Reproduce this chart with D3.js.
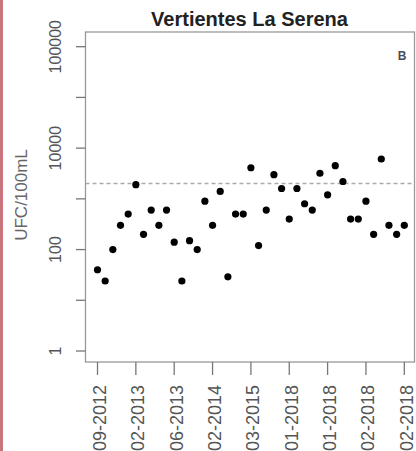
<!DOCTYPE html>
<html>
<script src="https://d3js.org/d3.v7.min.js"></script>
<style>
body {margin:0; background:#fff;}
text {font-family: "Liberation Sans", Arial, sans-serif;}
</style>
<body>
<svg width=416 height=451></svg>
<script>
// UFC/100mL per sample, in sampling order
const values = [40, 24, 100, 300, 500, 1900, 200, 600, 300, 600,
                140, 24, 150, 100, 900, 300, 1400, 29, 500, 500,
                4100, 120, 600, 3000, 1600, 400, 1600, 800, 600, 3200,
                1200, 4500, 2200, 400, 400, 900, 200, 6100, 300, 200, 300];
const xTickIdx = [1, 6, 11, 16, 21, 26, 31, 36, 41];
const xTickLabels = ["09-2012", "02-2013", "06-2013", "02-2014", "03-2015",
                     "01-2018", "01-2018", "02-2018", "02-2018"];
const yTicks = [1, 10, 100, 1000, 10000, 100000, 1000000];
const yLabelTicks = [1, 100, 10000, 1000000];
const yTickLabels = ["1", "100", "10000", "100000"];
const limit = 2000;

const svg = d3.select("svg");

// left red strip of the page
svg.append("rect").attr("x", 0).attr("y", 0).attr("width", 3).attr("height", 451)
    .attr("fill", "#c9747c");

const box = {left: 85.5, right: 414.5, top: 32, bottom: 362};

const x = d3.scaleLinear().domain([1, 41]).range([97.5, 404.3]);
const y = d3.scaleLog().domain([1, 1000000]).range([351, 46.7]);

// title
svg.append("text")
    .attr("x", 249.5).attr("y", 25.5)
    .attr("text-anchor", "middle")
    .attr("font-size", 20).attr("font-weight", "bold")
    .attr("fill", "#222")
    .text("Vertientes La Serena");

// plot box
svg.append("rect")
    .attr("x", box.left).attr("y", box.top)
    .attr("width", box.right - box.left).attr("height", box.bottom - box.top)
    .attr("fill", "none").attr("stroke", "#999").attr("stroke-width", 1.3);

// y ticks
svg.selectAll(".ytick").data(yTicks).enter().append("line")
    .attr("x1", 76).attr("x2", box.left)
    .attr("y1", d => y(d)).attr("y2", d => y(d))
    .attr("stroke", "#777").attr("stroke-width", 1.3);

svg.selectAll(".ylab").data(yLabelTicks).enter().append("text")
    .attr("transform", d => `translate(61,${y(d)}) rotate(-90)`)
    .attr("text-anchor", "middle")
    .attr("font-size", 16).attr("fill", "#555")
    .text((d, i) => yTickLabels[i]);

svg.append("text")
    .attr("transform", "translate(27,195) rotate(-90)")
    .attr("text-anchor", "middle")
    .attr("font-size", 17).attr("fill", "#666")
    .text("UFC/100mL");

// x ticks
svg.selectAll(".xtick").data(xTickIdx).enter().append("line")
    .attr("x1", d => x(d)).attr("x2", d => x(d))
    .attr("y1", box.bottom).attr("y2", 375)
    .attr("stroke", "#777").attr("stroke-width", 1.3);

svg.selectAll(".xlab").data(xTickIdx).enter().append("text")
    .attr("transform", d => `translate(${x(d) + 8.5},385) rotate(-90)`)
    .attr("text-anchor", "end")
    .attr("font-size", 18).attr("fill", "#555")
    .text((d, i) => xTickLabels[i]);

// reference line
svg.append("line")
    .attr("x1", box.left).attr("x2", box.right)
    .attr("y1", y(limit)).attr("y2", y(limit))
    .attr("stroke", "#aaa").attr("stroke-width", 1.5)
    .attr("stroke-dasharray", "4,3");

// points
svg.selectAll("circle").data(values).enter().append("circle")
    .attr("cx", (d, i) => x(i + 1))
    .attr("cy", d => y(d))
    .attr("r", 3.6)
    .attr("fill", "#000");

svg.append("text")
    .attr("x", 402).attr("y", 59.5)
    .attr("text-anchor", "middle")
    .attr("font-size", 12).attr("font-weight", "bold")
    .attr("fill", "#4a4a5a")
    .text("B");
</script>
</body>
</html>
